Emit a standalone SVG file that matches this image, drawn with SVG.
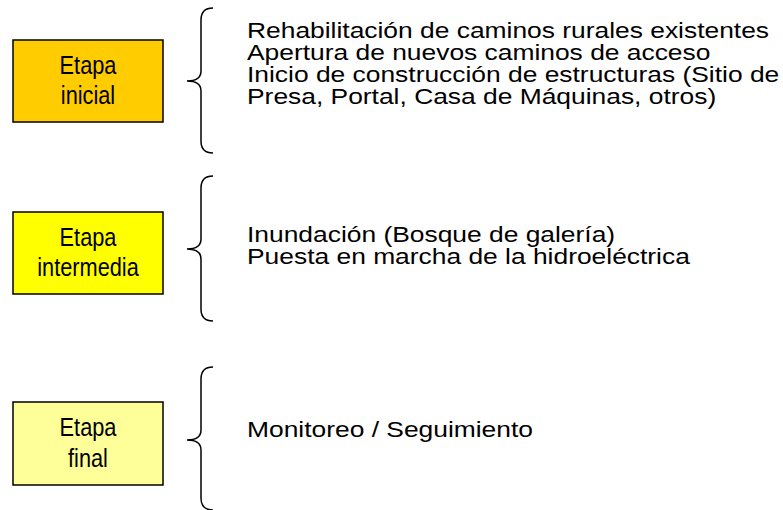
<svg xmlns="http://www.w3.org/2000/svg" width="783" height="510" viewBox="0 0 783 510">
<style>
.box{stroke:#000;stroke-width:1.5}
.bt{font-family:"Liberation Sans",Arial,sans-serif;font-size:25px;fill:#000;text-anchor:middle}
.rt{font-family:"Liberation Sans",Arial,sans-serif;font-size:22px;fill:#000}
.brace{fill:none;stroke:#000;stroke-width:1.5}
</style>
<rect width="783" height="510" fill="#fff"/>
<g id="etapa-inicial">
<rect class="box" x="13" y="40" width="150" height="82" fill="#FFCC00"/>
<g transform="translate(88,0) scale(0.87,1)">
<text class="bt" x="0" y="74">Etapa</text>
<text class="bt" x="0" y="104">inicial</text>
</g>
</g>
<g id="etapa-intermedia">
<rect class="box" x="13" y="212" width="150" height="82" fill="#FFFF00"/>
<g transform="translate(88,0) scale(0.87,1)">
<text class="bt" x="0" y="246">Etapa</text>
<text class="bt" x="0" y="276">intermedia</text>
</g>
</g>
<g id="etapa-final">
<rect class="box" x="13" y="402" width="150" height="83" fill="#FFFF99"/>
<g transform="translate(88,0) scale(0.87,1)">
<text class="bt" x="0" y="436">Etapa</text>
<text class="bt" x="0" y="467">final</text>
</g>
</g>
<g id="connectors">
<path class="brace" d="M213,8 Q201,8 201,20 L201,71 Q201,81 187,81 Q201,81 201,91 L201,141 Q201,153 213,153"/>
<path class="brace" d="M213,176 Q201,176 201,188 L201,239 Q201,249 187,249 Q201,249 201,259 L201,309 Q201,321 213,321"/>
<path class="brace" d="M213,367 Q201,367 201,379 L201,430 Q201,440 187,440 Q201,440 201,450 L201,498 Q201,510 213,510"/>
</g>
<g id="texto-inicial" transform="translate(247,0) scale(1.2,1)">
<text class="rt" x="0" y="38">Rehabilitación de caminos rurales existentes</text>
<text class="rt" x="0" y="60">Apertura de nuevos caminos de acceso</text>
<text class="rt" x="0" y="82">Inicio de construcción de estructuras (Sitio de</text>
<text class="rt" x="0" y="104">Presa, Portal, Casa de Máquinas, otros)</text>
</g>
<g id="texto-intermedia" transform="translate(247,0) scale(1.2,1)">
<text class="rt" x="0" y="242">Inundación (Bosque de galería)</text>
<text class="rt" x="0" y="264">Puesta en marcha de la hidroeléctrica</text>
</g>
<g id="texto-final" transform="translate(247,0) scale(1.2,1)">
<text class="rt" x="0" y="437">Monitoreo / Seguimiento</text>
</g>
</svg>
